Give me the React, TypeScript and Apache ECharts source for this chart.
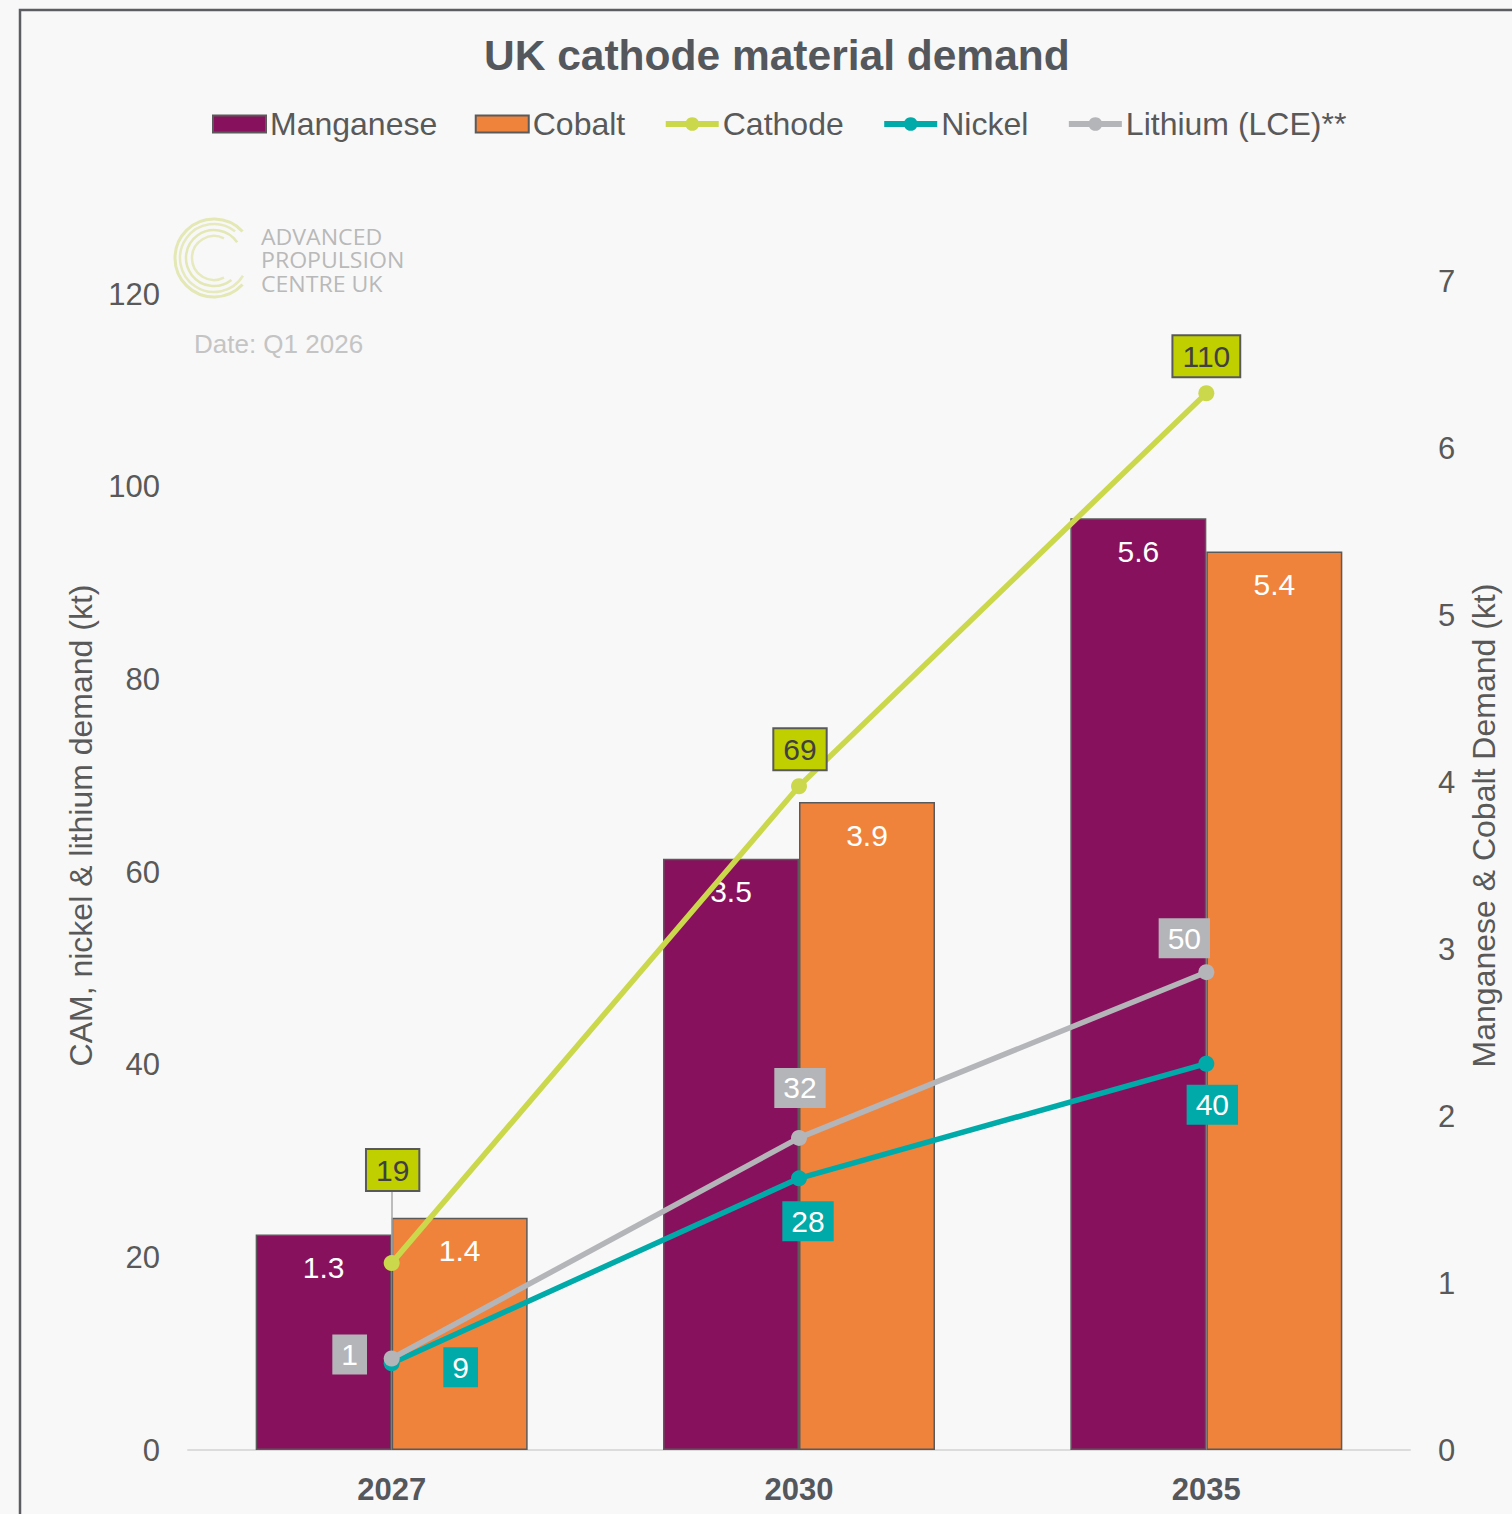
import React, { useEffect, useRef } from "react";
import * as echarts from "echarts";

const categories = ["2027", "2030", "2035"];
const manganese = [1.29, 3.54, 5.58];
const cobalt = [1.39, 3.88, 5.38];
const cathode = [19.4, 68.9, 109.7];
const nickel = [9.0, 28.2, 40.1];
const lithium = [9.5, 32.4, 49.6];
const lithiumLabels = ["1", "32", "50"];
const leftTickStep = 20;
const rightTicks = { min: 0, max: 7, step: 1 };
const logoLines = ["ADVANCED", "PROPULSION", "CENTRE UK"];

const FONT = "'Liberation Sans', Arial, sans-serif";
const TEXT = "#595959";

// label offsets (styling only)
const cathodeOffsets = [[1, -93], [1, -37], [0, -37]];
const nickelOffsets = [[69, 4], [9, 43], [6, 41]];
const lithiumOffsets = [[-42, -4], [1, -50], [-22, -34]];

export default function App() {
  const ref = useRef<HTMLDivElement>(null);
  useEffect(() => {
    if (!ref.current) return;
    const chart = echarts.init(ref.current, undefined, { renderer: "svg" });
    // left axis max aligned so that right axis 7 sits at the top of plot
    const leftMax = 121.35;

    const boxLabel = (bg: string, color: string, border?: boolean) => ({
      show: true,
      position: "inside",
      backgroundColor: bg,
      color,
      fontSize: 30,
      fontFamily: FONT,
      padding: [6, 9, 4, 9],
      borderColor: border ? "#595959" : undefined,
      borderWidth: border ? 2 : 0,
    });

    const barLabel = {
      show: true,
      position: "insideTop",
      distance: 18,
      color: "#fff",
      fontSize: 30,
      fontFamily: FONT,
      formatter: (p: any) => Number(p.value).toFixed(1),
    };

    const option: any = {
      animation: false,
      backgroundColor: "#f8f8f8",
      textStyle: { fontFamily: FONT },
      title: {
        text: "UK cathode material demand",
        left: 479,
        top: 29,
        textStyle: { fontSize: 42.5, fontWeight: "bold", color: "#54575c", fontFamily: FONT },
      },
      legend: {
        left: 207,
        top: 103,
        itemWidth: 53,
        itemHeight: 17,
        itemGap: 37.5,
        textStyle: { fontSize: 32, color: TEXT, fontFamily: FONT, padding: [0, 0, 0, -1] },
        data: [
          { name: "Manganese", icon: "rect" },
          { name: "Cobalt", icon: "rect" },
          { name: "Cathode", lineStyle: { width: 6 } },
          { name: "Nickel", lineStyle: { width: 6 } },
          { name: "Lithium (LCE)**", lineStyle: { width: 6 } },
        ],
      },
      grid: { left: 188, right: 102, top: 281, bottom: 64 },
      xAxis: {
        type: "category",
        data: categories,
        axisLine: { lineStyle: { color: "#dcdcdc", width: 2 } },
        axisTick: { show: false },
        axisLabel: { fontSize: 31, fontWeight: "bold", color: "#54575c", margin: 24, fontFamily: FONT },
      },
      yAxis: [
        {
          type: "value",
          min: 0,
          max: leftMax,
          interval: leftTickStep,
          splitLine: { show: false },
          axisLine: { show: false },
          axisTick: { show: false },
          axisLabel: {
            fontSize: 31,
            color: TEXT,
            margin: 28,
            fontFamily: FONT,
            formatter: (v: number) => (Math.abs(v % leftTickStep) < 1e-6 ? String(v) : ""),
          },
          name: "CAM, nickel & lithium demand (kt)",
          nameLocation: "middle",
          nameRotate: 90,
          nameGap: 90,
          nameTextStyle: { fontSize: 32, color: TEXT, fontFamily: FONT, padding: [0, 0, 0, 80] },
        },
        {
          type: "value",
          position: "right",
          min: rightTicks.min,
          max: rightTicks.max,
          interval: rightTicks.step,
          splitLine: { show: false },
          axisLine: { show: false },
          axisTick: { show: false },
          axisLabel: { fontSize: 31, color: TEXT, margin: 28, fontFamily: FONT },
          name: "Manganese & Cobalt Demand (kt)",
          nameLocation: "middle",
          nameRotate: 90,
          nameGap: 58,
          nameTextStyle: { fontSize: 32, color: TEXT, fontFamily: FONT, padding: [0, 0, 0, 80] },
        },
      ],
      series: [
        {
          name: "Manganese",
          type: "bar",
          yAxisIndex: 1,
          data: manganese,
          barWidth: 136,
          barGap: "0%",
          itemStyle: { color: "#88115d", borderColor: "#5a5a5a", borderWidth: 1.5 },
          label: barLabel,
        },
        {
          name: "Cobalt",
          type: "bar",
          yAxisIndex: 1,
          data: cobalt,
          barWidth: 136,
          barGap: "0%",
          itemStyle: { color: "#f0833c", borderColor: "#5a5a5a", borderWidth: 1.5 },
          label: barLabel,
        },
        {
          name: "Cathode",
          type: "line",
          yAxisIndex: 0,
          z: 5,
          symbol: "circle",
          symbolSize: 16,
          lineStyle: { color: "#cbd84c", width: 5.5 },
          itemStyle: { color: "#cbd84c" },
          data: cathode.map((v, i) => ({
            value: v,
            label: { ...boxLabel("#c0cf00", "#404040", true), offset: cathodeOffsets[i] },
          })),
          label: { formatter: (p: any) => String(Math.round(p.value)) },
          markLine: {
            silent: true,
            symbol: "none",
            label: { show: false },
            lineStyle: { color: "#a8a8a8", width: 1.5, type: "solid" },
            data: [[{ coord: [0, cathode[0]] }, { coord: [0, cathode[0] + 7.4] }]],
          },
        },
        {
          name: "Nickel",
          type: "line",
          yAxisIndex: 0,
          z: 6,
          symbol: "circle",
          symbolSize: 16,
          lineStyle: { color: "#00aaa8", width: 5.5 },
          itemStyle: { color: "#00aaa8" },
          data: nickel.map((v, i) => ({
            value: v,
            label: { ...boxLabel("#00aaa8", "#ffffff"), offset: nickelOffsets[i] },
          })),
          label: { formatter: (p: any) => String(Math.round(p.value)) },
        },
        {
          name: "Lithium (LCE)**",
          type: "line",
          yAxisIndex: 0,
          z: 7,
          symbol: "circle",
          symbolSize: 16,
          lineStyle: { color: "#b4b5b9", width: 5.5 },
          itemStyle: { color: "#b4b5b9" },
          data: lithium.map((v, i) => ({
            value: v,
            label: { ...boxLabel("#b4b5b9", "#ffffff"), offset: lithiumOffsets[i], formatter: lithiumLabels[i] },
          })),
        },
      ],
      graphic: [
        {
          type: "rect",
          silent: true,
          z: -10,
          shape: { x: 20, y: 10, width: 1700, height: 1700 },
          style: { fill: "none", stroke: "#5b5d62", lineWidth: 2.5 },
        },
        {
          type: "group",
          silent: true,
          children: [
            { type: "arc", shape: { cx: 214, cy: 258, r: 39, startAngle: 0.75, endAngle: Math.PI * 2 - 0.75 }, style: { stroke: "#e3e8b4", lineWidth: 3, fill: "none" } },
            { type: "arc", shape: { cx: 214, cy: 258, r: 34, startAngle: 0.55, endAngle: Math.PI * 2 - 0.9 }, style: { stroke: "#e6eabd", lineWidth: 2.5, fill: "none" } },
            { type: "arc", shape: { cx: 214, cy: 258, r: 28, startAngle: 0.9, endAngle: Math.PI * 2 - 0.6 }, style: { stroke: "#e3e8b4", lineWidth: 2.5, fill: "none" } },
            { type: "arc", shape: { cx: 214, cy: 258, r: 22, startAngle: 1.1, endAngle: Math.PI * 2 - 1.1 }, style: { stroke: "#e6eabd", lineWidth: 2.5, fill: "none" } },
            ...logoLines.map((t, i) => ({
              type: "text",
              x: 261,
              y: 236 + i * 23.5,
              scaleX: 1.1,
              style: {
                text: t,
                fontSize: 21,
                fontFamily: "'Open Sans', sans-serif",
                fill: "#b9b9b9",
                verticalAlign: "middle",
              },
            })),
            { type: "text", x: 194, y: 344, style: { text: "Date: Q1 2026", fontSize: 26, fontFamily: FONT, fill: "#c4c4c4", verticalAlign: "middle" } },
          ],
        },
      ],
    };
    chart.setOption(option);
    return () => chart.dispose();
  }, []);
  return (
    <div
      ref={ref}
      style={{ position: "fixed", left: 0, top: 0, width: 1512, height: 1514 }}
    />
  );
}
